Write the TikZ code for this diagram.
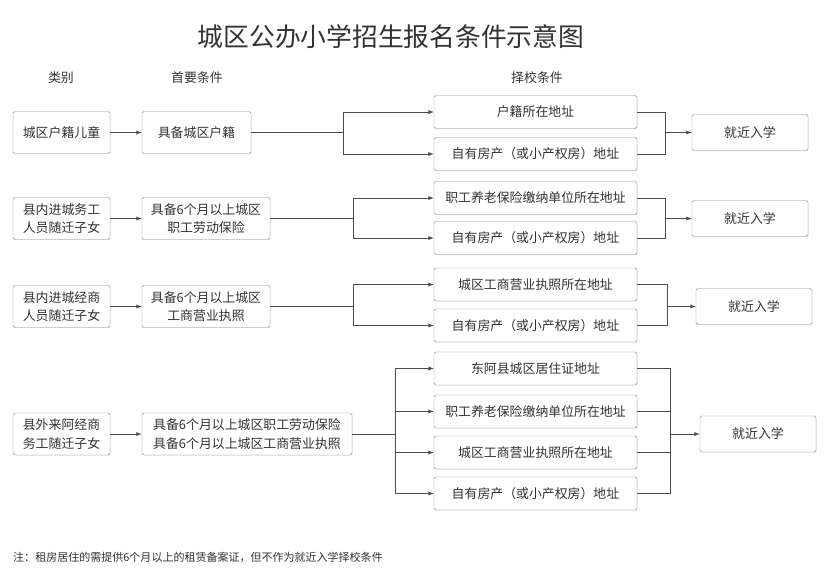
\documentclass[tikz,border=0pt]{standalone}
\usepackage{fontspec}
\setmainfont{Noto Sans CJK SC}
\usetikzlibrary{arrows,positioning,calc,shadows}

\begin{document}
\begin{tikzpicture}[
    x=0.03cm, y=-0.03cm,
    box/.style={draw=black!45, rectangle, fill=white, rounded corners=1.5pt, align=center, inner sep=1pt, text=black!80, font=\fontsize{11}{16}\selectfont, drop shadow={shadow xshift=0.5pt, shadow yshift=-0.5pt, opacity=0.2}},
    catbox/.style={box, minimum width=2.91cm, minimum height=1.26cm},
    prebox/.style={box, minimum height=1.26cm},
    selbox/.style={box, minimum width=6.09cm, minimum height=0.99cm},
    outbox/.style={box, minimum width=3.48cm, minimum height=1.08cm},
    head/.style={text=black!80, font=\fontsize{11}{14}\selectfont},
    line/.style={draw=black!70, line width=0.6pt},
    arrow/.style={line, -latex}
]

    % Background and frame
    \path[use as bounding box, fill=white] (0,0) rectangle (833,575);

    % Title and column headers
    \node [text=black!80, font=\fontsize{22}{26}\selectfont] (title) at (391,37) {城区公办小学招生报名条件示意图};
    \node [head] (h_cat) at (61,78) {类别};
    \node [head] (h_pre) at (197,78) {首要条件};
    \node [head] (h_sel) at (537,78) {择校条件};

    % Row 1: local household
    \node [catbox] (cat_hk) at (61.5,132.5) {城区户籍儿童};
    \node [prebox, minimum width=3.27cm] (pre_hk) at (196.5,132.5) {具备城区户籍};
    \node [selbox] (sel_hk_a) at (535.5,112) {户籍所在地址};
    \node [selbox] (sel_hk_b) at (535.5,154) {自有房产（或小产权房）地址};
    \node [outbox] (out_hk) at (750,132.5) {就近入学};
    \coordinate (split_hk) at (343,132.5);
    \coordinate (join_hk) at (665,132.5);

    % Row 2: in-county workers
    \node [catbox] (cat_wk) at (61.5,218.5) {县内进城务工\\人员随迁子女};
    \node [prebox, minimum width=3.84cm] (pre_wk) at (206,218.5) {具备6个月以上城区\\职工劳动保险};
    \node [selbox] (sel_wk_a) at (535.5,198) {职工养老保险缴纳单位所在地址};
    \node [selbox] (sel_wk_b) at (535.5,238) {自有房产（或小产权房）地址};
    \node [outbox] (out_wk) at (750,218.5) {就近入学};
    \coordinate (split_wk) at (353,218.5);
    \coordinate (join_wk) at (665,218.5);

    % Row 3: in-county traders
    \node [catbox] (cat_bz) at (61.5,306.5) {县内进城经商\\人员随迁子女};
    \node [prebox, minimum width=3.84cm] (pre_bz) at (206,306.5) {具备6个月以上城区\\工商营业执照};
    \node [selbox] (sel_bz_a) at (535.5,284.5) {城区工商营业执照所在地址};
    \node [selbox] (sel_bz_b) at (535.5,325.5) {自有房产（或小产权房）地址};
    \node [outbox] (out_bz) at (754,306.5) {就近入学};
    \coordinate (split_bz) at (353,306.5);
    \coordinate (join_bz) at (667,306.5);

    % Row 4: out-of-county
    \node [catbox] (cat_ex) at (61.5,434) {县外来阿经商\\务工随迁子女};
    \node [prebox, minimum width=6.3cm] (pre_ex) at (247,434) {具备6个月以上城区职工劳动保险\\具备6个月以上城区工商营业执照};
    \node [selbox] (sel_ex_a) at (535.5,368.5) {东阿县城区居住证地址};
    \node [selbox] (sel_ex_b) at (535.5,411.5) {职工养老保险缴纳单位所在地址};
    \node [selbox] (sel_ex_c) at (535.5,452.5) {城区工商营业执照所在地址};
    \node [selbox] (sel_ex_d) at (535.5,493.5) {自有房产（或小产权房）地址};
    \node [outbox] (out_ex) at (758,434) {就近入学};
    \coordinate (split_ex) at (395,434);
    \coordinate (join_ex) at (670,434);

    % Footnote
    \node [anchor=west, inner sep=0pt, text=black!80, font=\fontsize{9.4}{12}\selectfont] (note) at (13,557) {注：租房居住的需提供6个月以上的租赁备案证，但不作为就近入学择校条件};

    % Connections
    \foreach \r in {hk,wk,bz,ex} {
        \draw [arrow] (cat_\r) -- (pre_\r);
        \draw [line] (pre_\r.east) -- (split_\r);
        \draw [arrow] (join_\r) -- (out_\r);
    }

    \foreach \r in {hk,wk,bz} {
        \foreach \s in {a,b} {
            \draw [arrow] (split_\r) |- (sel_\r_\s.west);
            \draw [line] (sel_\r_\s.east) -| (join_\r);
        }
    }

    \foreach \s in {a,b,c,d} {
        \draw [arrow] (split_ex) |- (sel_ex_\s.west);
        \draw [line] (sel_ex_\s.east) -| (join_ex);
    }

\end{tikzpicture}
\end{document}
